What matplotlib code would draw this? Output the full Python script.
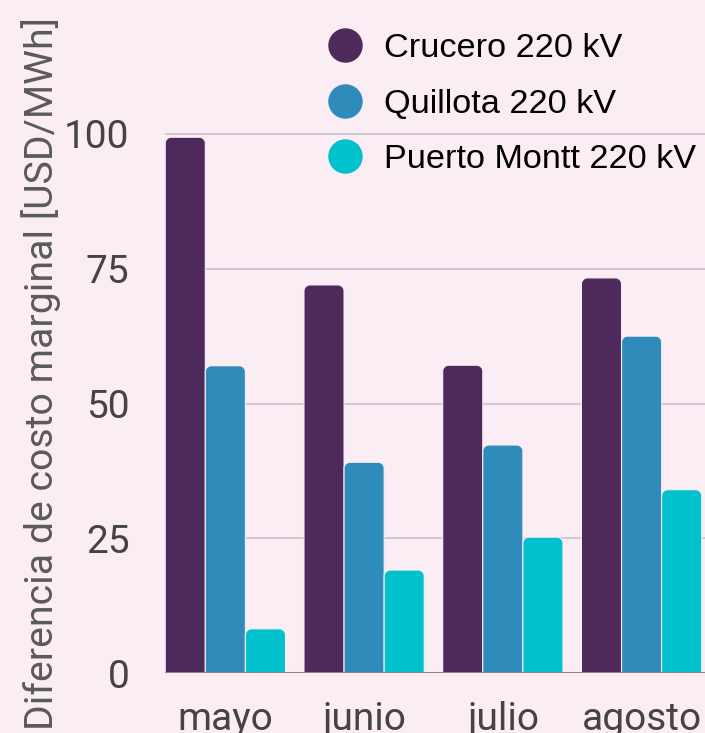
import matplotlib
matplotlib.use("Agg")
import matplotlib.pyplot as plt
from matplotlib.path import Path
from matplotlib.patches import PathPatch
from matplotlib.lines import Line2D
import numpy as np

months = ["mayo", "junio", "julio", "agosto"]
series_names = ["Crucero 220 kV", "Quillota 220 kV", "Puerto Montt 220 kV"]
crucero = [99.4, 72.0, 57.1, 73.3]
quillota = [57.0, 39.1, 42.3, 62.5]
puerto_montt = [8.2, 19.1, 25.2, 34.0]
yticks = [0, 25, 50, 75, 100]
colors = ["#4e295c", "#2e8bba", "#00c1cc"]
bg = "#faedf4"

plt.rcParams['font.family'] = ['Roboto', 'DejaVu Sans']

W, H = 705, 733
fig = plt.figure(figsize=(W/100, H/100), dpi=100, facecolor=bg)
ax = fig.add_axes([165/W, (H-673)/H, (W-165)/W, 673/H])
ax.set_facecolor(bg)

x = np.arange(len(months))
bw = 0.289
ymax = 673/5.39
ax.set_xlim(-0.435, 3.457)
ax.set_ylim(0, ymax)

def rounded(ax, rect, color, rpx=6):
    x0, y0 = rect.get_x(), rect.get_y()
    w, h = rect.get_width(), rect.get_height()
    p0 = ax.transData.transform((0, 0))
    p1 = ax.transData.transform((1, 1))
    rx = rpx / (p1[0]-p0[0])
    ry = rpx / (p1[1]-p0[1])
    ry = min(ry, h)
    k = 0.5523
    verts = [(x0, y0), (x0, y0+h-ry),
             (x0, y0+h-ry+k*ry), (x0+rx-k*rx, y0+h), (x0+rx, y0+h),
             (x0+w-rx, y0+h),
             (x0+w-rx+k*rx, y0+h), (x0+w, y0+h-ry+k*ry), (x0+w, y0+h-ry),
             (x0+w, y0), (x0, y0)]
    codes = [Path.MOVETO, Path.LINETO,
             Path.CURVE4, Path.CURVE4, Path.CURVE4,
             Path.LINETO,
             Path.CURVE4, Path.CURVE4, Path.CURVE4,
             Path.LINETO, Path.CLOSEPOLY]
    patch = PathPatch(Path(verts, codes), facecolor=color, edgecolor=bg, lw=0.8, zorder=3)
    ax.add_patch(patch)

for i, vals in enumerate([crucero, quillota, puerto_montt]):
    bars = ax.bar(x + (i-1)*bw, vals, width=bw, color=colors[i])
    for r in bars:
        r.set_visible(False)
        rounded(ax, r, colors[i])

for t in yticks[1:]:
    ax.axhline(t, color="#cbc1c8", lw=1.2, zorder=1)
ax.axhline(0, color="#8a8388", lw=2.2, zorder=4)

for s in ax.spines.values():
    s.set_visible(False)
ax.set_yticks(yticks)
ax.set_yticklabels([str(t) for t in yticks])
ax.set_xticks(x)
ax.set_xticklabels(months)
ax.tick_params(axis='both', length=0, labelsize=28, colors="#444444")
ax.tick_params(axis='y', pad=25.5)
ax.tick_params(axis='x', pad=20)
ax.grid(False)

ax.set_ylabel("Diferencia de costo marginal [USD/MWh]", fontsize=28.3, color="#5a5a5a")
ax.yaxis.set_label_coords(-(165-61)/(W-165), (673-374)/673)

handles = [Line2D([], [], marker='o', ls='', markersize=23.8, color=c) for c in colors]
leg = fig.legend(handles, series_names, loc='upper left', bbox_to_anchor=(324/W, 1-33/H),
                 frameon=False, prop={'family': 'Liberation Sans', 'size': 24.7},
                 handletextpad=0.55, labelspacing=0.72,
                 borderaxespad=0, borderpad=0, handlelength=1.2)
for t in leg.get_texts():
    t.set_color("black")

fig.savefig("out.png", dpi=100, facecolor=bg)
